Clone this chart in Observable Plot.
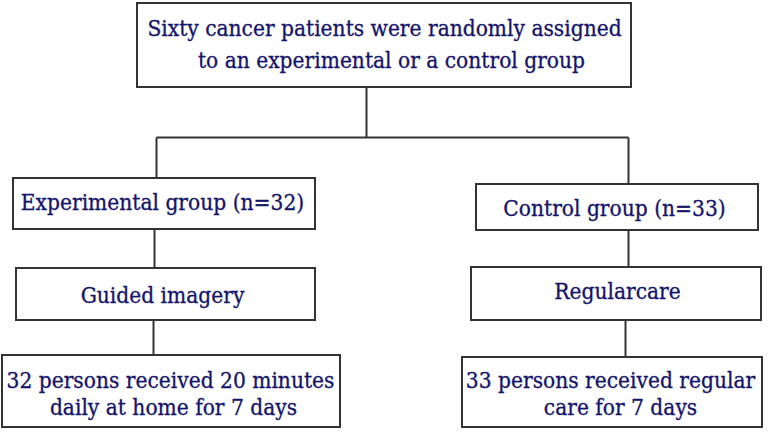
<!DOCTYPE html>
<html>
<head>
<meta charset="utf-8">
<script src="https://cdn.jsdelivr.net/npm/d3@7"></script>
<script src="https://cdn.jsdelivr.net/npm/@observablehq/plot@0.6"></script>
<style>
  html, body { margin: 0; padding: 0; background: #fff; }
  #chart svg { display: block; }
  #chart svg text { font-family: "DejaVu Serif Condensed", "DejaVu Serif", serif !important; font-stretch: condensed; }
</style>
</head>
<body>
<div id="chart"></div>
<script>
// Flowchart boxes (diagram units = pixels of the 771x435 frame)
const boxNames = ["top", "exp", "ctrl", "guided", "regular", "expOut", "ctrlOut"];
const boxX1 = [137, 13, 476, 16, 471, 2, 462];
const boxX2 = [631, 315, 758, 315, 761, 340, 762];
const boxY1 = [3, 178, 184, 268, 267, 355, 357];
const boxY2 = [87, 229, 230, 320, 320, 427, 427];

// Connector segments
const linkX1 = [366, 156, 156, 628, 154, 628, 153, 625];
const linkY1 = [87, 137, 137, 137, 229, 230, 320, 320];
const linkX2 = [366, 628, 156, 628, 154, 628, 153, 625];
const linkY2 = [137, 137, 178, 184, 268, 267, 355, 357];

// Text lines
const textLabels = [
  "Sixty cancer patients were randomly assigned",
  "to an experimental or a control group",
  "Experimental group (n=32)",
  "Control group (n=33)",
  "Guided imagery",
  "Regularcare",
  "32 persons received 20 minutes",
  "daily at home for 7 days",
  "33 persons received regular",
  "care for 7 days"
];
const textX = [384, 391, 162, 614, 162, 617, 170, 173, 610, 620];
const textY = [28, 60, 202, 208, 295, 291, 380, 407, 380, 407];

const boxes = boxNames.map((n, i) => ({n, x1: boxX1[i], x2: boxX2[i], y1: boxY1[i], y2: boxY2[i]}));
const links = linkX1.map((_, i) => ({x1: linkX1[i], y1: linkY1[i], x2: linkX2[i], y2: linkY2[i]}));
const texts = textLabels.map((t, i) => ({t, x: textX[i], y: textY[i]}));

const chart = Plot.plot({
  width: 771,
  height: 435,
  margin: 0,
  x: {domain: [0, 771], range: [0, 771], axis: null},
  y: {domain: [0, 435], range: [0, 435], axis: null},
  style: {background: "#fff"},
  marks: [
    Plot.link(links, {x1: "x1", y1: "y1", x2: "x2", y2: "y2", stroke: "#333", strokeWidth: 2}),
    Plot.rect(boxes, {x1: "x1", x2: "x2", y1: "y1", y2: "y2", fill: "#fff", stroke: "#333", strokeWidth: 2}),
    Plot.text(texts, {x: "x", y: "y", text: "t", fill: "#14146a", stroke: "#14146a", strokeWidth: 0.3,
      fontSize: 22.5, fontFamily: "'DejaVu Serif Condensed', 'DejaVu Serif', serif", textAnchor: "middle", lineAnchor: "middle"})
  ]
});
document.getElementById("chart").appendChild(chart);
</script>
</body>
</html>
